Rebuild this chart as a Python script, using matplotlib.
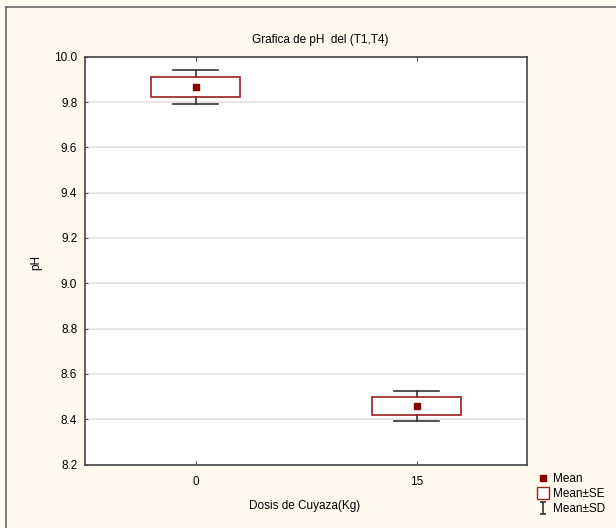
import numpy as np
import matplotlib
matplotlib.use('Agg')
import matplotlib.pyplot as plt
from matplotlib.lines import Line2D
from matplotlib.patches import Rectangle
from matplotlib.path import Path

plt.rcParams['font.family'] = ['Liberation Sans', 'DejaVu Sans']

# Values
doses = ['0', '15']
means = [9.866, 8.458]
se = [0.044, 0.038]
sd = [0.075, 0.068]

bg = '#fff9ee'
box_col = '#9b2020'
mean_col = '#8b0000'
wcol = '#333333'

fig = plt.figure(figsize=(6.16, 5.28), dpi=100, facecolor=bg)
ax = fig.add_axes([85/616, 1-464.5/528, 442/616, 407.8/528])
ax.set_facecolor('white')

x = np.arange(len(doses))
box_w = 0.40
cap_w = 0.20
for xi, m, s, d in zip(x, means, se, sd):
    # whiskers (mean +/- SD)
    ax.plot([xi, xi], [m - d, m - s], color=wcol, lw=1.2, zorder=3)
    ax.plot([xi, xi], [m + s, m + d], color=wcol, lw=1.2, zorder=3)
    ax.plot([xi - cap_w/2, xi + cap_w/2], [m + d, m + d], color=wcol, lw=1.2, zorder=3)
    ax.plot([xi - cap_w/2, xi + cap_w/2], [m - d, m - d], color=wcol, lw=1.2, zorder=3)
    # box (mean +/- SE)
    ax.add_patch(Rectangle((xi - box_w/2, m - s), box_w, 2*s, facecolor='none',
                           edgecolor=box_col, lw=1.2, zorder=4))
    ax.plot(xi, m, 's', color=mean_col, ms=4.5, zorder=5)

ax.set_xlim(-0.5, 1.5)
ax.set_ylim(8.2, 10.0)
ax.set_yticks(np.arange(8.2, 10.01, 0.2))
ax.set_yticklabels([f'{v:.1f}' for v in np.arange(8.2, 10.01, 0.2)])
ax.set_xticks(x)
ax.set_xticklabels(doses)
ax.yaxis.grid(True, color='#e2e2e2', lw=1.2)
ax.set_axisbelow(True)
ax.tick_params(direction='in', length=3, width=0.8, color='#555555',
               labelsize=8.5, top=True, pad=8)
ax.tick_params(axis='y', length=2, pad=5.5)
for sp in ax.spines.values():
    sp.set_color('#444444')
    sp.set_linewidth(1.2)

fig.text(320/616, 1-40/528, 'Grafica de pH  del (T1,T4)', ha='center', va='center', fontsize=8.5)
fig.text(305/616, 1-506/528, 'Dosis de Cuyaza(Kg)', ha='center', va='center', fontsize=8.5)
fig.text(36/616, 1-262/528, 'pH', ha='center', va='center', rotation=90, fontsize=8.5)

# figure frame (left and top)
fig.add_artist(Line2D([5.5/616, 5.5/616], [0, 1-7/528], color='#666666', lw=1.2))
fig.add_artist(Line2D([5.5/616, 1], [1-7/528, 1-7/528], color='#666666', lw=1.2))

# legend
ibeam = Path([(-0.5, -1), (0.5, -1), (0, -1), (0, 1), (-0.5, 1), (0.5, 1)],
             [Path.MOVETO, Path.LINETO, Path.MOVETO, Path.LINETO, Path.MOVETO, Path.LINETO])
handles = [
    Line2D([], [], ls='none', marker='s', color=mean_col, ms=4),
    Line2D([], [], ls='none', marker='s', markerfacecolor='white', markeredgecolor=box_col,
           ms=9, markeredgewidth=1),
    Line2D([], [], ls='none', marker=ibeam, color=wcol, ms=9, markeredgewidth=1.2),
]
fig.legend(handles, ['Mean', 'Mean\u00b1SE', 'Mean\u00b1SD'], loc='upper left',
           bbox_to_anchor=(532/616, 1-467/528), frameon=False, fontsize=8.5,
           handlelength=0.8, handletextpad=0.5, labelspacing=0.25, borderpad=0)

fig.savefig('out.png', dpi=100, facecolor=bg)
